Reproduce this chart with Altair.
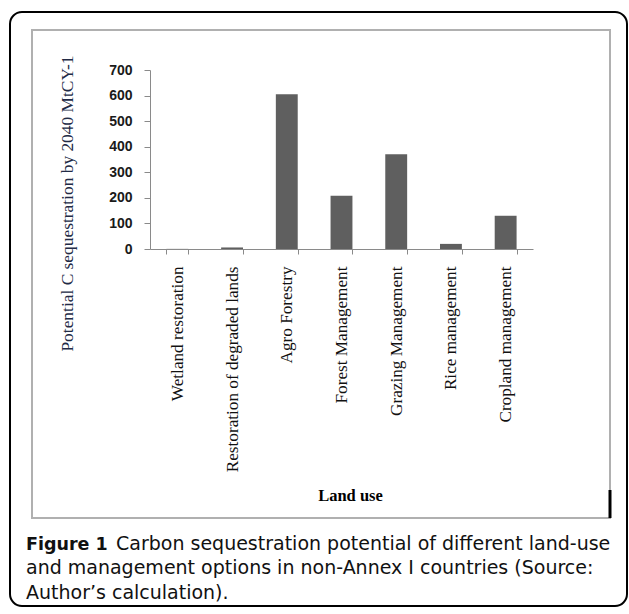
import altair as alt
import pandas as pd

categories = ["Wetland restoration", "Restoration of degraded lands", "Agro  Forestry",
              "Forest Management", "Grazing Management", "Rice management", "Cropland management"]
values = [0.5, 6, 605, 208, 371, 20, 130]
y_ticks = [0, 100, 200, 300, 400, 500, 600, 700]

caption_bold = "Figure 1"
caption_lines = ["Carbon sequestration potential of different land-use",
                 "and management options in non-Annex I countries (Source:",
                 "Author\u2019s calculation)."]

df = pd.DataFrame({"Land use": categories, "value": values})

W, H = 383, 179
CAP_FONT = "DejaVu Sans"
CAP_SIZE = 19

bars = alt.Chart(df).mark_bar(color="#5f5f5f").encode(
    x=alt.X("Land use:N", sort=categories,
            scale=alt.Scale(paddingInner=0.6, paddingOuter=0.3),
            axis=alt.Axis(title="Land use", labelAngle=-90, labelAlign="right", labelBaseline="middle",
                          labelFont="Liberation Serif", labelFontSize=17.2, labelColor="#111",
                          labelPadding=12, tickBand="extent", tickSize=5, tickColor="#8a8a8a",
                          domainColor="#8a8a8a", titleFont="Liberation Serif", titleFontSize=16.5,
                          titleFontWeight="bold", titleColor="#000", titleX=200, titleY=246,
                          titleBaseline="middle", titleAlign="center", labelLimit=400)),
    y=alt.Y("value:Q", scale=alt.Scale(domain=[0, 700], nice=False),
            axis=alt.Axis(title="Potential C sequestration by 2040 MtCY-1", values=y_ticks, grid=False,
                          labelFont="Liberation Sans", labelFontSize=14, labelFontWeight="bold",
                          labelColor="#1a1a1a", labelPadding=12, tickSize=6, tickColor="#8a8a8a",
                          domainColor="#8a8a8a", titleFont="Liberation Serif", titleFontSize=17.4,
                          titleFontWeight="normal", titleColor="#222a45", titleX=-83, titleY=133,
                          titleAlign="center", titleBaseline="middle")),
)

deco = alt.Data(values=[{"a": 1}])

outer = alt.Chart(deco).mark_rect(fill=None, stroke="#000", strokeWidth=2, cornerRadius=12).encode(
    x=alt.value(-140), x2=alt.value(477), y=alt.value(-58), y2=alt.value(536))
inner = alt.Chart(deco).mark_rect(fill=None, stroke="#b0b0b0", strokeWidth=2).encode(
    x=alt.value(-118), x2=alt.value(460), y=alt.value(-40), y2=alt.value(448))
mark = alt.Chart(deco).mark_rule(color="#000", strokeWidth=3).encode(
    x=alt.value(460), y=alt.value(420), y2=alt.value(448))

def cap(text, x, y, weight="normal", size=CAP_SIZE):
    return alt.Chart(deco).mark_text(text=text, font=CAP_FONT, fontSize=size, fontWeight=weight,
                                     align="left", baseline="alphabetic", color="#111").encode(
        x=alt.value(x), y=alt.value(y))

cap_bold = cap(caption_bold, -124, 480, "bold", 17.5)
cap1 = cap(caption_lines[0], -34, 480)
cap2 = cap(caption_lines[1], -124, 504)
cap3 = cap(caption_lines[2], -124, 529)

chart = alt.layer(outer, inner, mark, bars, cap_bold, cap1, cap2, cap3).properties(
    width=W, height=H, autosize="none",
    padding={"left": 150, "top": 70, "right": 96, "bottom": 365},
    background="white",
).configure_view(stroke=None)

chart.save("out.html", embed_options={"renderer": "svg", "actions": False})
